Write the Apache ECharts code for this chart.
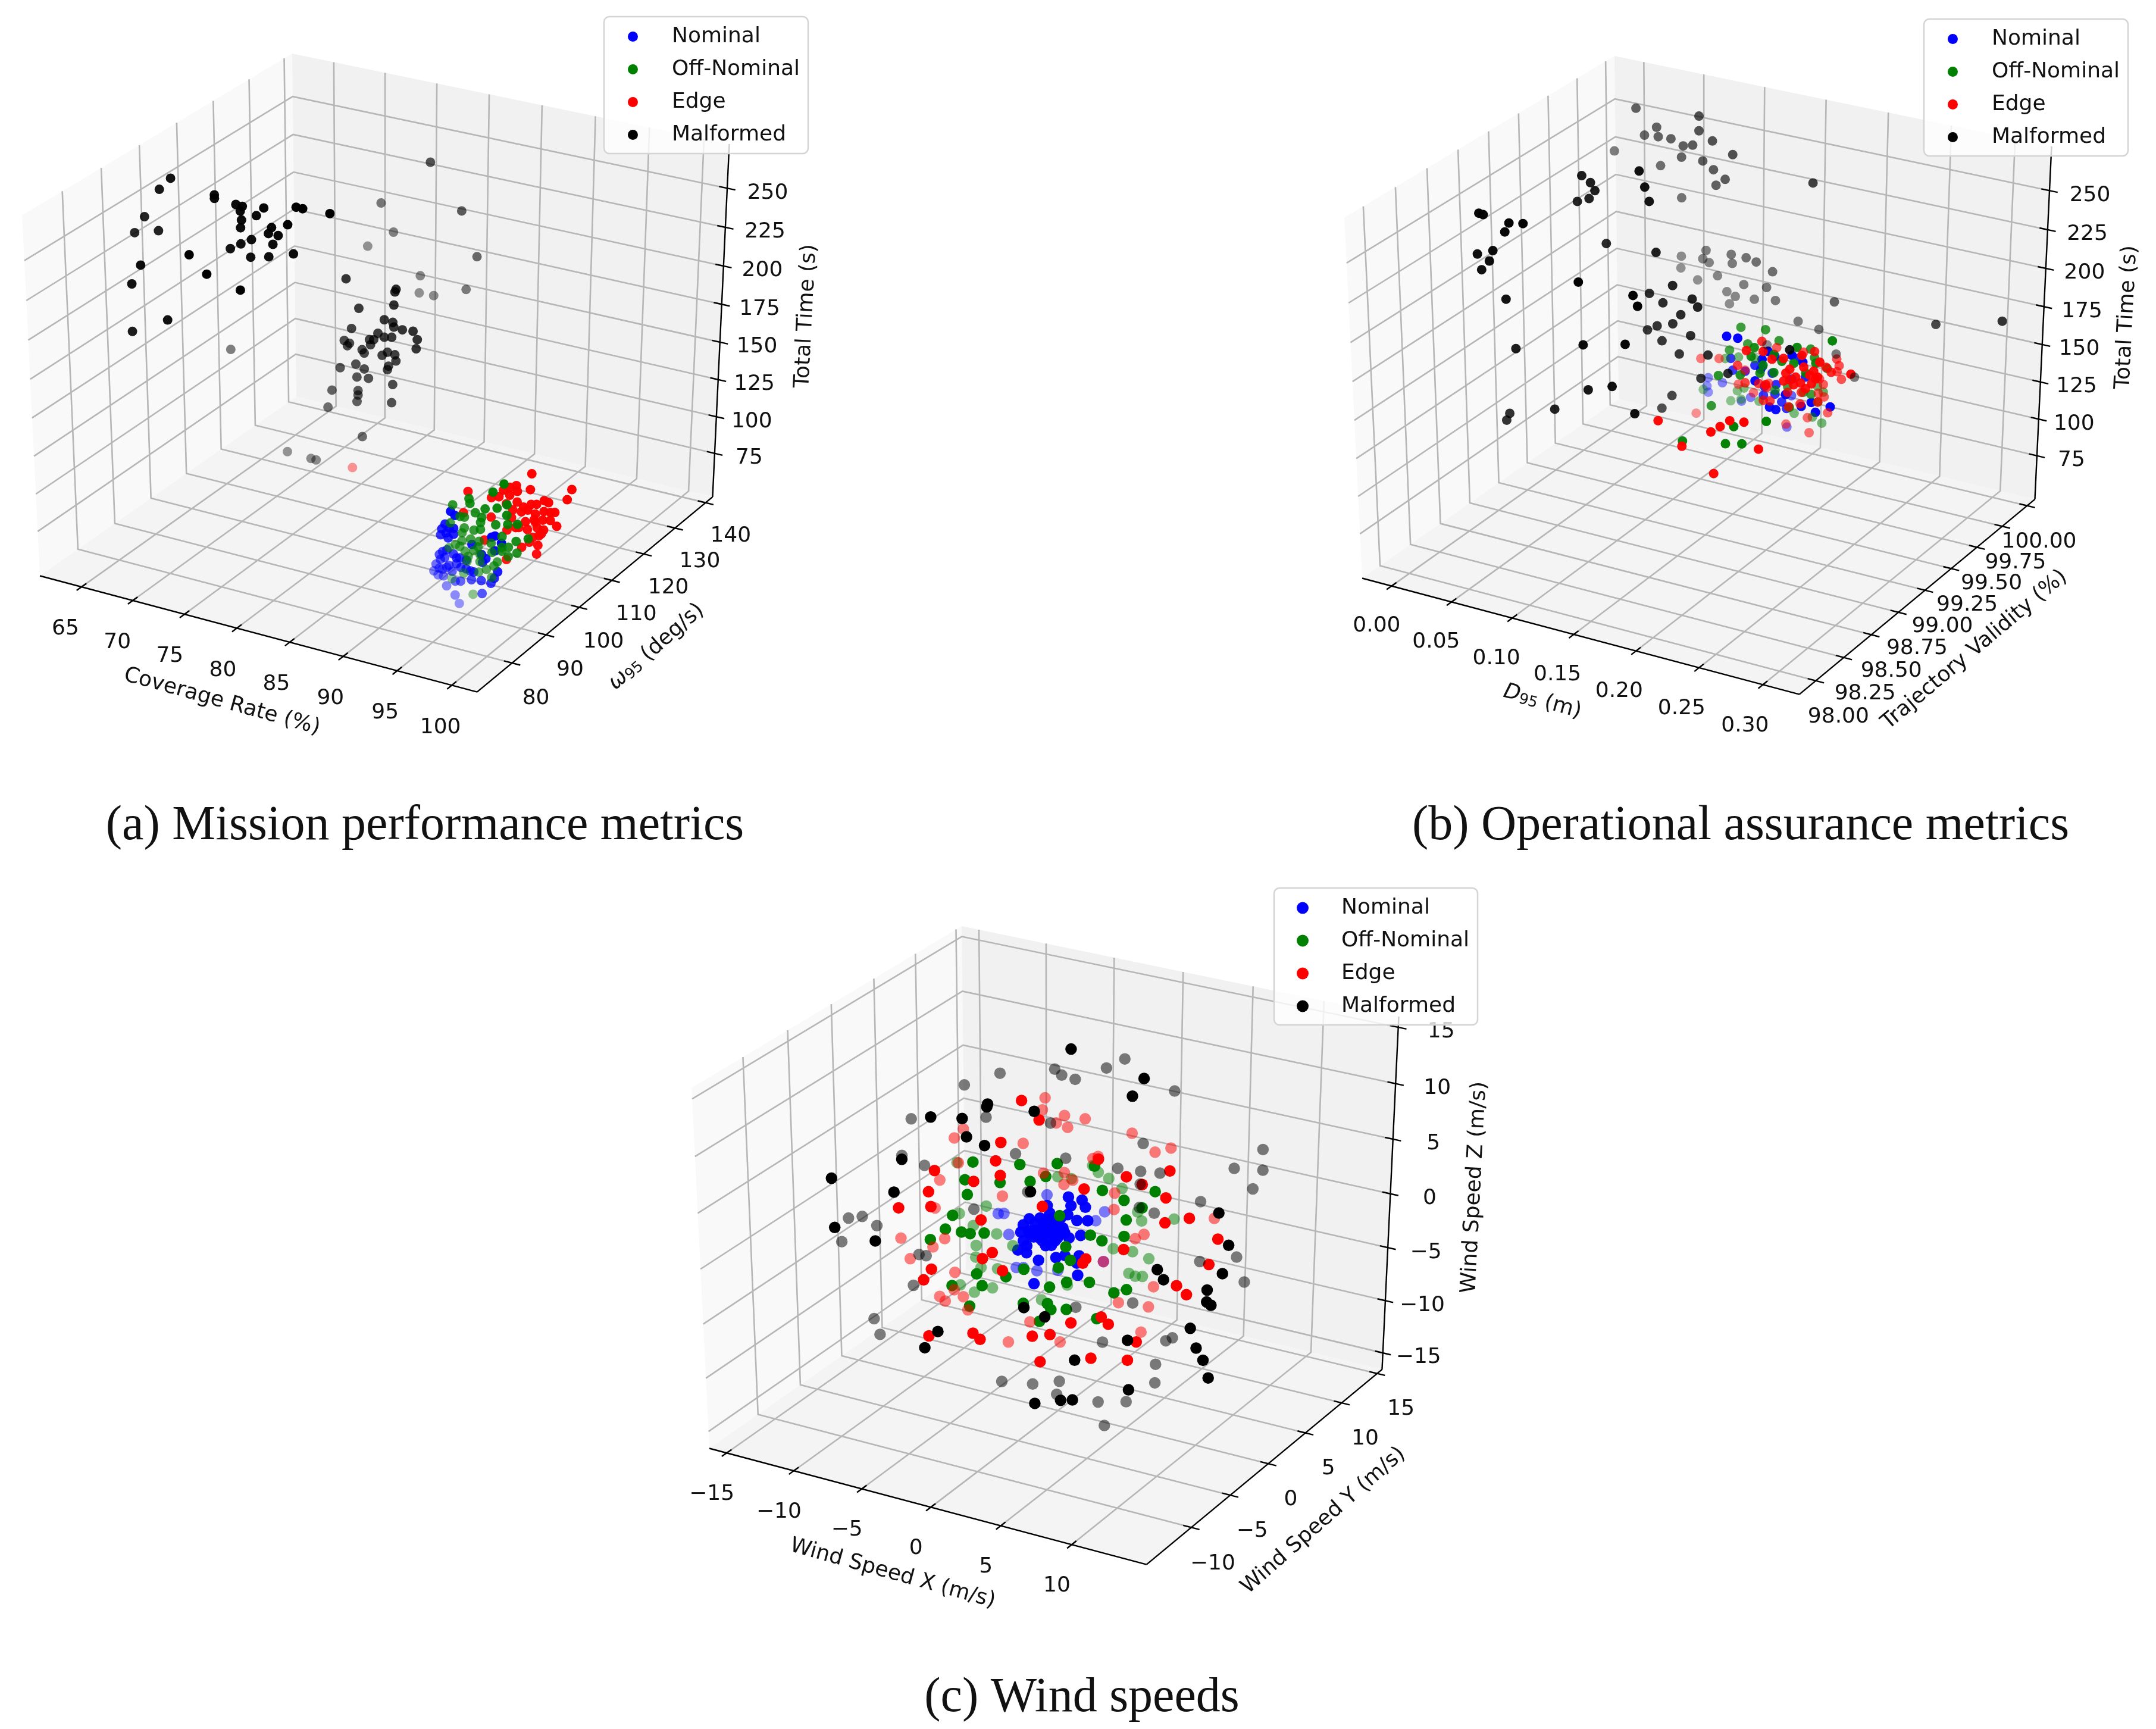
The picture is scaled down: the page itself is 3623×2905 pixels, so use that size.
<!DOCTYPE html>
<html><head><meta charset="utf-8">
<script src="https://cdn.jsdelivr.net/npm/echarts@6/dist/echarts.min.js"></script>
<style>html,body{margin:0;background:#fff}#c{width:3623px;height:2905px}</style></head>
<body><div id="c"></div>
<script>
const seriesNames=['Nominal','Off-Nominal','Edge','Malformed'];
const seriesColors=['#0000ff','#008000','#ff0000','#000000'];

// (a) [coverage %, omega95 deg/s, total time s]
const missionNominal=[[93.6,89.2,112.4],[94,89.2,110.4],[93.1,89.2,103.2],[92.8,89.2,99.5],[93.5,89.2,101.2],[93.9,89.2,101.8],[93.2,89.2,97.5],[92.7,89.2,95.4],[93.4,89.2,94.6],[93.9,89.2,97.9],[97.4,89.2,102.3],[97.7,89.2,103.5],[98.3,89.2,99.9],[92.9,89.2,84.7],[92.6,89.2,82.2],[93.3,89.2,86.6],[93.1,89.2,81.1],[93.9,89.2,84.9],[94.2,89.2,82.8],[92.7,89.2,79.2],[92.3,89.2,75.3],[92.1,89.2,70.4],[92.6,89.2,73.1],[93.5,89.2,76.6],[94.2,89.2,79],[94.6,89.2,77.2],[95.1,89.2,77.2],[93,89.2,68.7],[92.5,89.2,68.5],[93.3,89.2,62.6],[94.1,89.2,67.2],[94.6,89.2,68.1],[95.6,89.2,70.9],[96.5,89.2,71.9],[97.4,89.2,71.8],[97.7,89.2,75.7],[98,89.2,80.5],[95.8,89.2,76.4],[94.1,89.2,57.9],[96.6,89.2,63.5],[94.5,89.2,53],[96.9,89.2,87.2],[96.5,89.2,89.2],[95.6,89.2,94.2],[97.7,89.2,93.8],[95.5,89.2,76.5],[93.8,89.2,73.2],[96.6,89.2,84.2],[93.3,89.2,75],[94.5,89.2,83.4],[95.1,89.2,83],[92.9,89.2,73.1]];
const missionOffNominal=[[96.9,94.2,127.3],[95.9,94.2,120.3],[93.7,94.2,112.2],[93.8,94.2,109.2],[92.2,94.2,105.5],[96.3,94.2,110.5],[97.2,94.2,114.3],[95.2,94.2,108.1],[94.3,94.2,104],[92.9,94.2,99.1],[93.3,94.2,99.3],[97.2,94.2,107.4],[94.9,94.2,101.9],[94.8,94.2,98.5],[92,94.2,93.2],[96.2,94.2,99.4],[97.3,94.2,101.6],[98.2,94.2,103.2],[93.3,94.2,92.2],[94.2,94.2,92.3],[94.8,94.2,93.9],[93.1,94.2,88.6],[96.8,94.2,92.7],[99.2,94.2,95.5],[98.1,94.2,91.8],[93.1,94.2,83.3],[93.9,94.2,85.9],[94.7,94.2,85.8],[95.8,94.2,86.5],[92.5,94.2,79.8],[91.9,94.2,76.5],[92.9,94.2,79.1],[97.4,94.2,86.7],[96.8,94.2,83],[98.2,94.2,84.3],[95.9,94.2,80.6],[93.4,94.2,76.8],[94.2,94.2,78.7],[93.7,94.2,74],[94.8,94.2,77.1],[97.4,94.2,80.5],[96.4,94.2,75.1],[94.8,94.2,72.5],[96.1,94.2,71.9],[95.4,94.2,68.4],[94.7,94.2,65.3],[93.3,94.2,62.1],[95.9,94.2,63.9],[92.2,94.2,56.3],[94.2,94.2,49.5],[94.6,94.2,81.9],[93.6,94.2,70.6],[96.8,94.2,85.6]];
const missionEdge=[[96.7,103.1,118.4],[96.6,103.1,107.8],[100.4,103.1,114.5],[100,103.1,107.1],[90.8,103.1,96.5],[94.7,103.1,106],[95.3,103.1,108.2],[94.1,103.1,103.1],[95.4,103.1,104.6],[93,103.1,96.2],[93.7,103.1,98],[94.7,103.1,100.8],[94.4,103.1,94.6],[95.4,103.1,97.5],[97.9,103.1,102.8],[98.3,103.1,102.2],[96.7,103.1,98.2],[96,103.1,95.2],[97.2,103.1,99.1],[98.9,103.1,96.7],[97.9,103.1,95.6],[95,103.1,91.6],[94.9,103.1,86.2],[95.8,103.1,91.7],[96.4,103.1,93.9],[97.1,103.1,92.5],[98.5,103.1,90.7],[97.1,103.1,87.3],[97.8,103.1,89.7],[99.1,103.1,87.9],[96.2,103.1,85.8],[95.6,103.1,80.9],[96.4,103.1,80.9],[97.3,103.1,83.7],[97.9,103.1,83.3],[94.5,103.1,77.2],[97.5,103.1,78.8],[96.6,103.1,72.8],[97.4,103.1,72.2],[95.9,103.1,68.2],[97.3,103.1,66.1],[94.5,103.1,57.4],[92.4,103.1,66.8],[93,103.1,83.2],[90.4,103.1,81.5],[95.3,103.1,80.3],[96.9,103.1,76.6],[98.5,103.1,95.9],[97,103.1,88.5],[97.7,103.1,80.4],[72.8,124,45.7]];
const missionMalformed=[[66.9,91.6,278],[65.8,91.6,269.5],[64.3,91.6,250.1],[63.3,91.6,238.5],[65.6,91.6,243.2],[71,91.6,273.7],[71,91.6,271.5],[73,91.6,270.7],[73.6,91.6,270.4],[73.4,91.6,267.2],[73.5,91.6,261.8],[73.4,91.6,256.8],[75.6,91.6,272.4],[74.9,91.6,266.6],[76.3,91.6,261.3],[76,91.6,257.1],[76.9,91.6,257.2],[76.4,91.6,251],[74.4,91.6,250.9],[73.4,91.6,246.7],[72.4,91.6,242.2],[74.3,91.6,239.7],[76,91.6,242.6],[77.8,91.6,265.3],[78.3,91.6,247.9],[78.6,91.6,277.3],[79.2,91.6,277.3],[81.7,91.6,278],
[72.4,80.8,254.7],[67.8,80.8,241.2],[66.9,80.8,228],[74,80.8,245.1],[77.1,80.8,240],[70.2,80.8,210.4],[66.8,80.8,197.7],
[79.1,127.8,253.7],[74.4,127.8,220.5],[82.1,127.8,226.8],[75.6,127.8,203.3],[73.1,127.8,190.3],[83.6,127.8,199.4],[78.2,127.8,178.6],[82.6,127.8,176.4],[79.5,127.8,167.5],[78.1,127.8,167.1],
[78.3,106,210.2],[83,106,210.8],[82.9,106,208.9],[79.5,106,193.1],[82.8,106,200.4],[81.9,106,189.5],[82.7,106,189.1],[78.8,106,178.9],[83.6,106,185.7],[84.6,106,186.4],[85,106,181.6],[84.9,106,175.5],[81.3,106,179.8],[80.9,106,175],[80.5,106,174.4],[81.9,106,178.2],[82.6,106,179.3],[82.8,106,186.2],[78.1,106,170],[78.6,106,169],[78.4,106,167],[80.6,106,171.2],[79.8,106,166.7],[80,106,164.8],[81.7,106,166.1],[82.2,106,168.9],[82.9,106,168.4],[83,106,164.5],[77.7,106,151.5],[79.2,106,156.3],[80,106,154.4],[82.3,106,160],[82.2,106,157.5],[79.3,106,148],[80.4,106,148.9],[82.7,106,148.6],[76.9,106,135.4],[79.4,106,139.2],[79.4,106,136.2],[79.3,106,131.8],[82.6,106,136.5],[76.5,106,123.4],[79.8,106,109.3],[72.5,106,86.7],[74.8,106,86],[75.3,106,85.9],[67.1,106,146.4]];

// (b) [D95 m, trajectory validity %, total time s]
const assuranceNominal=[[.14,99.3,160.3],[.149,99.3,160.7],[.0646,99.96,83.5],[.0767,99.96,82.3],[.0635,99.96,77.5],[.0646,99.96,73.4],[.1136,99.63,123.4],[.1152,99.63,115.7],[.1337,99.63,122.5],[.14,99.63,123.1],[.1737,99.3,156.7],[.1793,99.3,154.4],[.193,99.3,157.7],[.2018,99.3,154.9],[.1633,99.3,135.2],[.1513,99.63,112.9],[.1409,99.63,103.7],[.1008,99.96,76.8],[.093,99.96,72.7],[.1505,99.63,106.3],[.1882,99.3,130.9],[.1753,99.3,120],[.1804,99.3,119.3],[.1601,99.63,98.4],[.201,99.3,125.5],[.209,99.3,129.7],[.2243,99.3,129.7],[.2125,99.3,123.8],[.1317,99.96,62.2],[.1385,99.63,120.8],[.1481,99.63,120],[.1353,99.96,84.7],[.1417,99.63,109.8],[.1642,99.63,119.1],[.1754,99.63,122.6],[.1256,99.63,117],[.1706,99.63,134.7],[.1689,99.3,150.5],[.1561,99.63,102.1]];
const assuranceOffNominal=[[.1219,99.63,145.9],[.1422,99.63,148.1],[.1276,99.63,135.8],[.1534,99.63,142.8],[.2251,99.3,173.3],[.1125,99.63,128.8],[.1625,99.3,157.1],[.0903,99.96,102.6],[.16,99.3,150.8],[.104,99.96,104.2],[.0791,99.96,99.5],[.1333,99.3,133],[.1512,99.3,136.8],[.1673,99.3,141.1],[.1785,99.3,143.6],[.1946,99.3,152.8],[.197,99.3,163.7],[.1794,99.63,142.1],[.1826,99.63,137],[.2122,99.3,156.2],[.193,99.63,131.8],[.0951,99.96,82.2],[.0895,99.96,79.2],[.0603,99.96,74.5],[.0839,99.96,71.2],[.0927,99.96,74],[.1275,99.3,111.6],[.108,99.96,75.6],[.1377,99.96,73],[.153,99.96,73.3],[.161,99.96,70.7],[.1914,99.3,123],[.1858,99.63,107.8],[.1802,99.63,111.9],[.1618,99.96,92.3],[.1569,99.96,95.3],[.1505,99.63,108.9],[.1609,99.63,113.4],[.1738,99.63,112],[.1849,99.3,152.3],[.1785,99.3,155.6],[.2042,99.3,148.2],[.1697,99.3,146.8],[.1554,98.74,123.9],[.19,98.74,129],[.2031,98.74,131.5],[.2224,98.74,150],[.1966,98.74,141.5]];
const assuranceEdge=[[.0582,99.96,95.6],[.0738,99.96,98.5],[.1561,99.3,153.9],[.1224,99.96,115.2],[.1393,99.63,139.7],[.1697,99.3,155.9],[.1862,99.3,154.4],[.1769,99.3,152.1],[.201,99.3,159.2],[.1449,99.96,116.3],[.1826,99.63,141.1],[.2154,99.3,157.5],[.1922,99.63,132.3],[.1963,99.63,129.8],[.1725,99.96,116.9],[.1746,99.96,112.8],[.173,99.96,108.4],[.2403,99.3,154.4],[.1767,99.96,103.9],[.1192,99.63,119.7],[.0959,99.96,94.7],[.0903,99.96,83.9],[.1256,99.63,109.2],[.1369,99.63,110.8],[.1433,99.63,109.4],[.116,99.96,89.4],[.1032,99.96,80.5],[.1865,99.3,139.6],[.1914,99.3,148.3],[.1914,99.3,141.2],[.2026,99.3,151.8],[.2106,99.3,150.7],[.2122,99.3,145.8],[.2002,99.3,140.9],[.209,99.3,142],[.1609,99.63,109.5],[.1722,99.63,111.7],[.1585,99.96,100.7],[.1618,99.96,97.5],[.1577,99.96,90.8],[.1626,99.96,89.1],[.1714,99.63,103.7],[.1858,99.63,107.8],[.1465,99.63,100.9],[.1409,99.63,100.2],[.1658,99.96,78.8],[.1489,99.96,72.1],[.1309,99.96,64.1],[.1505,99.96,62],[.1618,99.63,99.9],[.0542,99.96,56.7],[.1946,99.3,138.6],[.2074,99.3,147.5],[.2138,99.3,147.4],[.1962,99.3,144],[.2042,99.3,137.9],[.1882,99.3,145.1],[.1721,99.3,134.4],[.2047,98.74,146],[.1934,98.74,144.7],[.1857,98.74,139.4],[.1783,98.74,134.4],[.1549,98.74,120.3],[.2164,98.74,130.7],[.1806,98.74,107.4],[.1357,98.74,133.4]];
const assuranceMalformed=[[.0257,98.41,262.9],[.0292,98.41,262.6],[.0498,98.41,261],[.0611,98.41,262.6],[.0463,98.41,254.8],[.0362,98.41,241.3],[.0235,98.41,236.9],[.0331,98.41,234.2],[.0266,98.41,227.5],[.0458,98.41,212.3],[.0528,98.41,181.9],[.0463,98.41,138.5],[.0436,98.41,133.5],[.0834,98.41,148.5],[.1074,98.41,194.6],[.141,98.41,201.3],[.1044,98.41,233.8],[.1109,98.41,166.4],[.1302,98.41,172.3],[.1476,98.41,233.3],[.1511,98.41,227.2],[.1481,98.41,158.2],
[.0539,98.97,264.7],[.0609,98.97,261.5],[.0644,98.97,257],[.0596,98.97,251.2],[.05,98.97,247.7],[.1002,98.97,275.5],[.1046,98.97,266.2],[.1081,98.97,257.8],[.0731,98.97,224.9],[.1133,98.97,226.4],[.1265,98.97,207.6],[.1186,98.97,195],[.1265,98.97,182.9],[.1409,98.97,177.9],[.1549,98.97,167.9],[.1256,98.97,135.7],[.1173,98.97,125.7],[.171,98.97,159],[.1492,98.97,151.6],[.1077,98.97,199.1],[.1422,98.97,201.8],[.1466,98.97,197.4],[.133,98.97,190],[.1138,98.97,179.2],[.1059,98.97,175.1],[.1177,98.97,170.2],[.1317,98.97,164.2],[.22,98.97,183.6],
[.0251,99.74,267.3],[.077,99.74,270.8],[.0421,99.74,257.9],[.032,99.74,251.1],[.0434,99.74,252],[.0539,99.74,252.4],[.077,99.74,261.4],[.088,99.74,256.7],[.064,99.74,249.5],[.0718,99.74,251.3],[.0067,99.74,236.6],[.1046,99.74,250.7],[.0626,99.74,242],[.0801,99.74,242.5],[.0452,99.74,233.5],[.0889,99.74,238.3],[.0985,99.74,233.7],[.091,99.74,228.6],[.1697,99.74,243.6],[.0626,99.74,215.5],[.0622,99.74,176.9],[.0828,99.74,184.4],[.0801,99.74,178.4],[.0854,99.74,176.8],[.1037,99.74,185.5],[.1046,99.74,179.7],[.116,99.74,185.5],[.1243,99.74,184.2],[.0618,99.74,169],[.1378,99.74,180.2],[.0924,99.74,169.3],[.0758,99.74,163.5],[.1142,99.74,167.4],[.133,99.74,168.9],[.1002,99.74,160.1],[.1072,99.74,158.2],[.1024,99.74,152.4],[.123,99.74,159.2],[.1404,99.74,161.6],[.1885,99.74,169.5],[.1592,99.74,151.2],[.1763,99.74,149],[.2702,99.74,169.8],[.3222,99.74,181.6],[.1907,99.74,135.2],[.206,99.74,122.6],[.1339,99.74,130.6]];

// (c) [wind x, wind y, wind z] m/s
const windNominal=[[.5,.4,3.2],[1.3,.7,3],[1.6,.6,2.5],[.8,.2,2.6],[2,.2,1.6],[1.4,-.1,1.6],[-1.2,-1.5,1.7],[-1.4,-1.9,1.3],[-1.4,-2.2,.8],[-.6,-1.2,1.8],[-.2,-.7,2.1],[.5,-.5,1.8],[.3,-1.1,1.1],[-.1,-1.4,.9],[.7,-1.2,.6],[-.3,-1.8,.4],[-.7,-1.7,.9],[-1.1,-2.4,.2],[-1.2,-2.9,-.4],[-.7,-2.7,-.6],[.1,-2.6,-1.1],[1,-2,-.9],[1.4,-1.6,-.8],[2.2,-1.2,-.8],[2.2,-1.5,-1.3],[2.5,-1.9,-2.1],[.3,-3.5,-2.7],[-.3,-1.2,1.4],[.3,-.8,1.4],[.8,-.8,1.1],[1.3,-.9,.4],[1.9,-.5,.6],[-.3,-1.4,1.1],[.5,-1.7,-.1],[-.5,-.5,2.6],[.8,-.2,2],[-.8,-2.5,-.1],[.2,-1.3,.8],[.6,-1.4,.2],[.2,-1.9,-.1],[-.8,-1.5,1.4],[0,-1.2,1.5],[.5,-.9,1.5],[-.4,-1.6,.7],[.1,-1.6,.5],[.9,-1,.9],[-.6,-2,.5],[-.2,-1.1,1.7],[.4,-1.5,.9],[-.1,-1.8,.2],[.6,-1.1,.3],[1.1,-1.1,.9],[-.9,-1.9,.6],[-.9,-2.1,1],[.2,-1,1.9],[-.3,-1.9,.9],
[-3.8,-.9,1.1],[-3.5,-.7,1.1],[1.9,2.5,1.2],[2.8,.8,-2.2],[-2.8,-1.3,-.3],[1.6,1.9,.6],[-1.5,1.2,2.4],[-1.4,-1.9,-2.6],[-.6,-1.6,-2.8],[-1.8,-2.1,-2.6],[.5,-.9,-2.8]];
const windOffNominal=[[-3.3,-4.7,7.8],[-3.4,-5.5,6.6],[-1.5,-4.5,6.4],[-.8,-3.3,7.6],[1.2,-2.2,7.7],[3.2,-1.1,7.5],[4.1,-1.7,5.9],[.1,-3.6,6.5],[.8,-2.9,6.8],[-3,-5.9,5.6],[6.9,-.1,5.8],[5.4,-1.3,5.2],[6.5,-1,4.7],[5.9,-1.9,3.9],[2.3,-3.8,4.2],[-3.4,-7,4.2],[-4.1,-8.5,2.6],[-3.5,-7.7,3.3],[-2.1,-7.1,3],[-2.6,-7.3,3.1],[-1.4,-6.6,3],[4.3,-3.5,2.9],[5,-3.3,2.5],[6.1,-2.5,2.8],[3.2,-4.6,2.1],[3.2,-5.5,.7],[3.7,-4.9,1.2],[3.9,-5.7,-.3],[5.1,-5,-.3],[3.1,-6.4,-.6],[1.4,-6.6,.6],[.6,-7.4,.1],[-1,-8.2,.3],[-.5,-8.4,-.5],[-2.1,-9.3,-.5],[-.8,-9.4,-1.9],[7.2,-4.1,-.8],[6.6,-4.6,-1],[2,-7.7,-1.7],[3.3,-7,-1.7],[3.6,-7.1,-2.1],[3.2,-7.8,-2.9],[4.4,-6.6,-2.1],[6.2,-6,-2.7],
[-7,-.5,4.6],[.4,3.6,4.4],[.8,3.6,3.9],[1.5,3.7,3.5],[2.4,3.8,2.8],[-.5,2.5,3.5],[-1.3,2.2,3.6],[-4.6,-1,1.6],[-5.9,-2.1,1.1],[-4.9,-2.1,.3],[-3.5,-1.6,-.3],[-4.4,-2.6,-1.1],[-2.4,-1.5,-1.1],[3.1,1.5,-1.3],[4.2,2,-1.5],[4.4,1.2,-3],[4.8,1.3,-3.2],[5.2,1.5,-3.2],[5.2,2.3,-2],[4.1,3.3,.6],[5.8,4.4,.7],[3.7,3.5,1.2],[-2.8,-2.7,-2.7],[-3.7,-3.2,-2.6],[-4.2,-3,-1.9],[-2.7,-3.5,-4],[-4.5,-4.4,-3.8],[-3.6,-4.2,-4.3],[.2,-2.4,-4.8],[1.3,-1.1,-3.8]];
const windEdge=[[-1.9,-1.2,11.9],[-.6,-1.3,10.6],[-2.2,-3.2,9.1],[-2.1,-4,7.9],[-5.2,-6.1,7.2],[-1.6,-4.3,6.9],[-2.9,-5.3,6.5],[-5.1,-7,5.8],[-6.4,-8.4,4.7],[-4.7,-7.4,4.8],[5.1,-.5,6.8],[6.1,-.3,6.3],[7.3,1,7.2],[3.1,-2.2,6],[3.3,-.8,8],[7.6,0,5.4],[1.2,-4,4.8],[-1.8,-6.3,3.9],[9.2,.1,4],[11.1,.3,2.6],[8,-.8,3.7],[6.3,-2.9,1.9],[-.6,-7,1.7],[-1,-7.5,1.3],[-3.5,-9.4,.6],[-3.7,-10,-.1],[4.5,-4.4,1.3],[4.4,-4.6,1],[-.1,-10.2,-3.7],[.4,-10.2,-4.1],[3.1,-8.5,-3.9],[4,-7.9,-3.8],[4.9,-6.9,-3],[-2.4,-11.6,-3.9],[6.9,-5.8,-3.1],[6.4,-5.8,-2.6],[6.6,-7.4,-5.4],[4,-9.1,-5.6],[8.6,-6.4,-5.5],[8.7,-5.5,-4.3],[11.1,-.8,.9],[9.8,-2.5,-.5],[10.5,-2.5,-1.1],[.3,-7.3,.5],
[-3.5,4.4,9],[-3.4,3.9,8.2],[-2.1,4.4,7.8],[-.9,4.9,7.6],[-2.4,3.9,7.3],[-1.7,4.1,7],[-7.3,.8,6.9],[-7.6,.2,6.3],[1.9,5.9,6.6],[3.5,6,5.3],[4.3,6.6,5.6],[-3.8,2.2,5.9],[.5,4.1,5],[.3,3.8,4.9],[-2.1,1.8,3.9],[-1,2.5,3.9],[-.4,2.5,3.4],[-7.6,-1.6,3.4],[-6.9,-.5,4.6],[2.1,3.4,2.5],[-3.9,-.2,2.3],[-7.3,-2.7,1.5],[2.4,2.8,1.4],[4.5,2.9,-.3],[4.1,2.5,-.6],[-8.6,-4.7,-.6],[-6.2,-3.4,-.6],[-6.7,-4,-1.2],[-7.7,-5.1,-2],[2.8,.8,-2.2],[-5.4,-5.4,-4.6],[-5,-5.4,-4.9],[-4.7,-4.8,-4.1],[-4.1,-4.7,-4.6],[-3.6,-5,-5.5],[-5,-4.2,-2.9],[0,-3.5,-6.3],[4.4,-.1,-5],[6.1,.7,-5.3],[6,1.5,-3.9],[-.8,-4.8,-7.7],[2,-3.2,-7.7],[6.2,-.4,-7],[8,5.6,.8],[-.8,2.1,3.1]];
const windMalformed=[[-.2,1.9,15.4],[4.2,3.2,13.4],[3.9,2.3,12.2],[-1,-1.2,11.2],[-3.6,-2.4,11.7],[-3.6,-2.5,11.5],[-4.7,-3.6,10.7],[-6.4,-4.5,10.8],[-4.1,-4.1,9.5],[-3,-3.8,8.9],[-7.1,-6.8,8],[-6.9,-8.1,5.8],[-10.5,-9.5,6.7],[-9.4,-11,3.4],[-7,-10.2,2.5],[.3,-3.9,5.8],[10.7,1.1,4.4],[11.8,.4,2.2],[8.5,-2.6,.6],[9,-2.7,-.1],[12,-.7,.3],[11.5,-1.7,-.8],[11.7,-2.1,-1.6],[12,-2.1,-1.8],[11.3,-3.4,-3.4],[12,-3.9,-4.7],[12.6,-4.1,-5.5],[13.2,-4.5,-6.7],[8.2,-5.7,-4.2],[5.8,-8,-5.5],[9.2,-7.3,-7.5],[6.4,-9.3,-8.2],[5.8,-9.7,-8.2],[4.5,-10.6,-8.4],[2.1,-7.8,-2],[3.4,-7.5,-2.6],[-2,-11.2,-3.6],[-2.4,-12.1,-4.7],
[-8.1,2.3,9.9],[-6.4,3.8,10.7],[-3.5,5.6,11],[-3,5.6,10.6],[-2.2,5.9,10.3],[-.7,7.2,11.1],[.1,8.1,11.7],[3.4,8.6,9.5],[-10.3,-.5,7.6],[-6.3,1.9,7.7],[-2.7,3.7,7.3],[2.7,5.9,5.9],[-4,1.6,5.2],[-1.2,3,4.9],[-10.1,-2,5.1],[-8.7,-1.6,4.4],[1.8,4.3,4.2],[3.1,4.9,4],[4.2,5.4,3.9],[3.3,4.5,3.1],[8.1,7.9,4.2],[9.3,9.4,5.5],[9.7,8.7,4.1],[9.5,7.8,2.8],[6.9,5.8,1.9],[4.6,4,1.1],[3.7,3.7,1.5],[-2.6,.7,2.6],[-5.2,-1.5,1.4],[-11.1,-5.2,.9],[-11.8,-5.7,.8],[-11.7,-6.7,-.8],[-10.1,-5.1,.3],[-7.3,-4.7,-1.7],[-6.9,-4.5,-1.8],[9.9,5.1,-1.9],[8,3.8,-2.2],[10.8,4.5,-3.6],[-7,-5.9,-3.8],[-8.5,-8.2,-6.1],[-7.9,-8.5,-7.2],[2.2,-1.6,-5.3],[5.2,.3,-5],[4.3,-1.9,-7.7],[8,.4,-7.4],[7.7,.1,-7.6],[7.6,-1,-9.2],[7.9,-1.6,-10.5],[1.3,-5.4,-10.6],[-.4,-6.3,-10.4],[2.7,-4.5,-10.4],[2.8,-5,-11.3],[5.2,-4,-11.8],[6.7,-3.1,-11.8],[6,-4.6,-13.4]];

// tick values and labels
const coverageTicks=[65,70,75,80,85,90,95,100];
const omegaTicks=[80,90,100,110,120,130,140];
const timeTicks=[75,100,125,150,175,200,225,250];
const d95Ticks=[0,.05,.1,.15,.2,.25,.3];
const d95Labels=['0.00','0.05','0.10','0.15','0.20','0.25','0.30'];
const validityTicks=[98,98.25,98.5,98.75,99,99.25,99.5,99.75,100];
const validityLabels=['98.00','98.25','98.50','98.75','99.00','99.25','99.50','99.75','100.00'];
const windXTicks=[-15,-10,-5,0,5,10];
const windYTicks=[-10,-5,0,5,10,15];
const windZTicks=[-15,-10,-5,0,5,10,15];
const minus=v=>String(v).replace('-','\u2212');

const FS=36;
const panels=[
 {cx:641,cy:608,sx:8480,sy:6917,xLim:[60.9,102.3],yLim:[69.9,142.3],zLim:[45,278],
  xT:coverageTicks,yT:omegaTicks,zT:timeTicks,xL:coverageTicks.map(String),yL:omegaTicks.map(String),zL:timeTicks.map(String),
  xOff:[[-27,71],[-19,71]],yOff:[[40,60],[42,56]],zOff:[[58,8],[68,8]],size:16,k:.6,order:[2,3,1,4],
  data:[missionNominal,missionOffNominal,missionEdge,missionMalformed],
  legend:[1015,28]},
 {cx:2863,cy:612,sx:8480,sy:6917,xLim:[-.0247,.3283],yLim:[97.855,100.078],zLim:[45,278],
  xT:d95Ticks,yT:validityTicks,zT:timeTicks,xL:d95Labels,yL:validityLabels,zL:timeTicks.map(String),
  xOff:[[-25,67],[-30,69]],yOff:[[38,61],[20,61]],zOff:[[58,8],[68,8]],size:16,k:.6,order:[1,2,3,4],
  data:[assuranceNominal,assuranceOffNominal,assuranceEdge,assuranceMalformed],
  legend:[3233,32]},
 {cx:1766,cy:2074,sx:8480,sy:6917,xLim:[-16.3,15.2],yLim:[-15.6,15.7],zLim:[-16.6,15.95],
  xT:windXTicks,yT:windYTicks,zT:windZTicks,xL:windXTicks.map(minus),yL:windYTicks.map(minus),zL:windZTicks.map(minus),
  xOff:[[-25,69],[-25,69]],yOff:[[36,61],[40,60]],zOff:[[60,8],[72,8]],size:19.5,k:.5,order:[1,2,3,4],
  data:[windNominal,windOffNominal,windEdge,windMalformed],
  legend:[2141,1492]}
];
const axisTitles=[
 {t:'Coverage Rate (%)',x:373,y:1179,r:-.27},
 {t:'{i|\u03c9}{s|95} (deg/s)',x:1103,y:1087,r:.72},
 {t:'Total Time (s)',x:1355,y:531,r:1.52},
 {t:'{i|D}{s|95} (m)',x:2592,y:1179,r:-.27},
 {t:'Trajectory Validity (%)',x:3318,y:1092,r:.7},
 {t:'Total Time (s)',x:3574,y:533,r:1.52},
 {t:'Wind Speed X (m/s)',x:1500,y:2644,r:-.27},
 {t:'Wind Speed Y (m/s)',x:2224,y:2555,r:.72},
 {t:'Wind Speed Z (m/s)',x:2478,y:1995,r:1.52}
];
const captions=[
 {t:'(a) Mission performance metrics',x:714,y:1388},
 {t:'(b) Operational assurance metrics',x:2925,y:1388},
 {t:'(c) Wind speeds',x:1818,y:2853}
];

// matplotlib mplot3d view: elev 30, azim -60, dist 10
function project(p,x,y,z){
 const a=(x-p.xLim[0])/(p.xLim[1]-p.xLim[0])-.5;
 const b=(y-p.yLim[0])/(p.yLim[1]-p.yLim[0])-.5;
 const c=(z-p.zLim[0])/(p.zLim[1]-p.zLim[0])-.5;
 const w=10-(.433013*a-.75*b+.5*c);
 return [(.866025*a+.5*b)/w,(-.25*a+.433013*b+.866025*c)/w,w];
}
const XR=[-.075,.08],YR=[-.09,.085];
const grids=[],xAxes=[],yAxes=[],series=[],legends=[];
function frameRender(p){
 return function(params,api){
  const [x0,x1]=p.xLim,[y0,y1]=p.yLim,[z0,z1]=p.zLim;
  const P=(x,y,z)=>{const q=project(p,x,y,z);return api.coord([q[0],q[1]]);};
  const kids=[];
  const poly=(pts,fill)=>kids.push({type:'polygon',shape:{points:pts},style:{fill:fill,stroke:null}});
  const line=(pts,col,w)=>kids.push({type:'polyline',shape:{points:pts},style:{stroke:col,lineWidth:w,fill:null}});
  poly([P(x0,y0,z0),P(x0,y1,z0),P(x0,y1,z1),P(x0,y0,z1)],'#f9f9f9');
  poly([P(x0,y1,z0),P(x1,y1,z0),P(x1,y1,z1),P(x0,y1,z1)],'#f1f1f1');
  poly([P(x0,y0,z0),P(x1,y0,z0),P(x1,y1,z0),P(x0,y1,z0)],'#f4f4f4');
  const gc='#b6b6b6',gw=2.6;
  p.xT.forEach(v=>line([P(v,y0,z0),P(v,y1,z0),P(v,y1,z1)],gc,gw));
  p.yT.forEach(v=>line([P(x1,v,z0),P(x0,v,z0),P(x0,v,z1)],gc,gw));
  p.zT.forEach(v=>line([P(x0,y0,v),P(x0,y1,v),P(x1,y1,v)],gc,gw));
  line([P(x0,y0,z0),P(x1,y0,z0)],'#000',2.4);
  line([P(x1,y0,z0),P(x1,y1,z0)],'#000',2.4);
  line([P(x1,y1,z0),P(x1,y1,z1)],'#000',2.4);
  const dy=(y1-y0)*.018,dx=(x1-x0)*.018;
  p.xT.forEach(v=>line([P(v,y0-dy,z0),P(v,y0+dy,z0)],'#000',2.4));
  p.yT.forEach(v=>line([P(x1+dx,v,z0),P(x1-dx,v,z0)],'#000',2.4));
  p.zT.forEach(v=>line([P(x1+dx,y1,v),P(x1-dx,y1,v)],'#000',2.4));
  const txt=(pt,off,i,n,s)=>{const f=i/(n-1);
   kids.push({type:'text',x:pt[0]+off[0][0]+(off[1][0]-off[0][0])*f,y:pt[1]+off[0][1]+(off[1][1]-off[0][1])*f,
    style:{text:s,fill:'#111',fontFamily:'DejaVu Sans',fontSize:FS,align:'center',verticalAlign:'middle'}});};
  p.xT.forEach((v,i)=>txt(P(v,y0,z0),p.xOff,i,p.xT.length,p.xL[i]));
  p.yT.forEach((v,i)=>txt(P(x1,v,z0),p.yOff,i,p.yT.length,p.yL[i]));
  p.zT.forEach((v,i)=>txt(P(x1,y1,v),p.zOff,i,p.zT.length,p.zL[i]));
  return {type:'group',children:kids};
 };
}
panels.forEach((p,i)=>{
 grids.push({left:p.cx+p.sx*XR[0],width:p.sx*(XR[1]-XR[0]),top:p.cy-p.sy*YR[1],height:p.sy*(YR[1]-YR[0]),show:false});
 xAxes.push({type:'value',gridIndex:i,min:XR[0],max:XR[1],show:false});
 yAxes.push({type:'value',gridIndex:i,min:YR[0],max:YR[1],show:false});
 series.push({type:'custom',xAxisIndex:i,yAxisIndex:i,z:1,silent:true,clip:false,data:[[0,0]],renderItem:frameRender(p),animation:false});
 p.data.forEach((rows,j)=>{
  const pr=rows.map(r=>project(p,r[0],r[1],r[2]));
  const ws=pr.map(q=>q[2]),lo=Math.min(...ws),hi=Math.max(...ws);
  series.push({type:'scatter',name:seriesNames[j],xAxisIndex:i,yAxisIndex:i,z:1+p.order[j],symbolSize:p.size,clip:false,silent:true,animation:false,
   itemStyle:{color:seriesColors[j]},
   data:pr.map(q=>({value:[q[0],q[1]],itemStyle:{opacity:1-p.k*Math.pow((q[2]-lo)/(hi-lo),1.5)}}))});
 });
 const L=p.legend,d=i==2?20:17;
 legends.push({show:true,data:seriesNames,orient:'vertical',left:L[0],top:L[1],z:20,selectedMode:false,
  backgroundColor:'rgba(255,255,255,.8)',borderColor:'#d4d4d4',borderWidth:2.5,borderRadius:9,padding:[6,14,4,i==2?38:40],itemGap:0,
  itemWidth:d,itemHeight:d,icon:'circle',align:'left',itemStyle:{opacity:1},
  textStyle:{fontFamily:'DejaVu Sans',fontSize:FS,color:'#111',lineHeight:35,padding:[0,0,20,i==2?50:52]}});
});
const graphic=[];
const sub={i:{fontStyle:'italic',fontFamily:'DejaVu Sans',fontSize:FS,fill:'#111'},s:{fontFamily:'DejaVu Sans',fontSize:25,fill:'#111',verticalAlign:'bottom',padding:[12,0,0,0]}};
axisTitles.forEach(t=>graphic.push({type:'text',x:t.x,y:t.y,rotation:t.r,z:3,silent:true,
 style:{text:t.t,fill:'#111',fontFamily:'DejaVu Sans',fontSize:FS,align:'center',verticalAlign:'middle',rich:sub}}));
captions.forEach(t=>graphic.push({type:'text',x:t.x,y:t.y,z:3,silent:true,
 style:{text:t.t,fill:'#111',fontFamily:'"Liberation Serif"',fontSize:82,align:'center',verticalAlign:'middle'}}));
const chart=echarts.init(document.getElementById('c'),null,{renderer:'canvas'});
chart.setOption({animation:false,backgroundColor:'#fff',grid:grids,xAxis:xAxes,yAxis:yAxes,legend:legends,series:series,graphic:graphic});
</script></body></html>
